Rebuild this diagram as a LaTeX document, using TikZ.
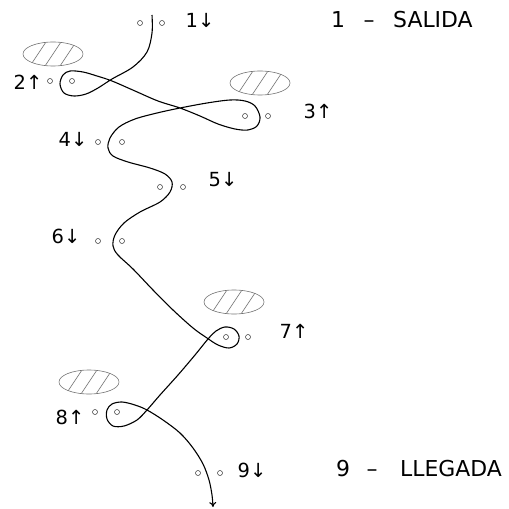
\documentclass[tikz,border=0pt]{standalone}
\usepackage{fontspec}
\setmainfont{DejaVu Sans}
\usetikzlibrary{arrows.meta}
\tikzset{
  gate/.style={circle,draw=black!80,line width=0.5pt,inner sep=0pt,minimum size=5bp},
  lbl/.style={inner sep=0pt,font=\fontsize{19.5}{20}\selectfont},
  legend/.style={inner sep=0pt,text height=16bp,text depth=0pt,font=\fontsize{22}{22}\selectfont},
  route/.style={line width=1.1pt,black},
  zone/.pic={
    \draw[black!55,line width=0.6pt] (0,0) ellipse [x radius=30bp,y radius=12bp];
    \begin{scope}
      \clip (0,0) ellipse [x radius=30bp,y radius=12bp];
      \foreach \d in {-15,0,15} \draw[black!55,line width=0.6pt] (\d-10,15) -- (\d+10,-15);
    \end{scope}
  }
}
\begin{document}
\begin{tikzpicture}[x=1bp,y=-1bp]
\useasboundingbox (0,0) rectangle (509,509);
% zones
\pic (z2) at (53,54) {zone};
\pic (z3) at (260,83) {zone};
\pic (z7) at (234,302) {zone};
\pic (z8) at (89,382) {zone};
% gates
\node[gate] (g1a) at (140,23) {}; \node[gate] (g1b) at (162,23) {};
\node[gate] (g2a) at (50,81) {};  \node[gate] (g2b) at (72,81) {};
\node[gate] (g3a) at (245,116) {}; \node[gate] (g3b) at (268,116) {};
\node[gate] (g4a) at (98,142) {}; \node[gate] (g4b) at (122,142) {};
\node[gate] (g5a) at (160,187) {}; \node[gate] (g5b) at (183,187) {};
\node[gate] (g6a) at (98,241) {}; \node[gate] (g6b) at (122,241) {};
\node[gate] (g7a) at (226,337) {}; \node[gate] (g7b) at (248,337) {};
\node[gate] (g8a) at (95,412) {}; \node[gate] (g8b) at (117,412) {};
\node[gate] (g9a) at (198,473) {}; \node[gate] (g9b) at (220,473) {};
% labels
\node[lbl] (l1) at (200,20) {1↓};
\node[lbl] (l2) at (28,82) {2↑};
\node[lbl] (l3) at (318,111) {3↑};
\node[lbl] (l4) at (73,139) {4↓};
\node[lbl] (l5) at (223,180) {5↓};
\node[lbl] (l6) at (66,236) {6↓};
\node[lbl] (l7) at (294,331) {7↑};
\node[lbl] (l8) at (70,417) {8↑};
\node[lbl] (l9) at (252,470) {9↓};
% legend
\node[legend] (s1) at (338,20) {1};
\node[legend] (s2) at (369,20) {–};
\node[legend,anchor=west] (s3) at (393,20) {SALIDA};
\node[legend] (e1) at (343,468) {9};
\node[legend] (e2) at (372,468) {–};
\node[legend,anchor=west] (e3) at (400,468) {LLEGADA};
% route
\draw[route,-{To[length=5bp,width=7bp]}] plot[smooth,tension=0.55] coordinates {
(152,15) (152,33) (147,52) (133,67) (112,79) (98,88) (86,94) (74,96) (64,93) (60,84) (63,75) (70,71) (83,72) (97,76) (112,81) (135,91) (158,101) (180,108) (200,116) (218,124) (235,129) (248,130) (257,126) (260,117) (255,106) (245,101) (230,100) (207,103) (180,108) (157,113) (135,119) (119,127) (110,138) (108,148) (113,156) (128,162) (150,168) (165,174) (172,182) (170,192) (160,202) (140,212) (124,223) (115,235) (113,246) (118,255) (133,269) (153,290) (173,310) (193,328) (207,338) (218,345) (229,348) (237,344) (239,336) (234,329) (225,327) (216,331) (208,339) (195,355) (178,375) (160,395) (147,410) (137,420) (124,426) (113,426) (107,419) (107,410) (112,404) (122,402) (135,405) (147,410) (163,420) (180,433) (193,448) (203,464) (209,480) (212,495) (213,507)};
\end{tikzpicture}
\end{document}
